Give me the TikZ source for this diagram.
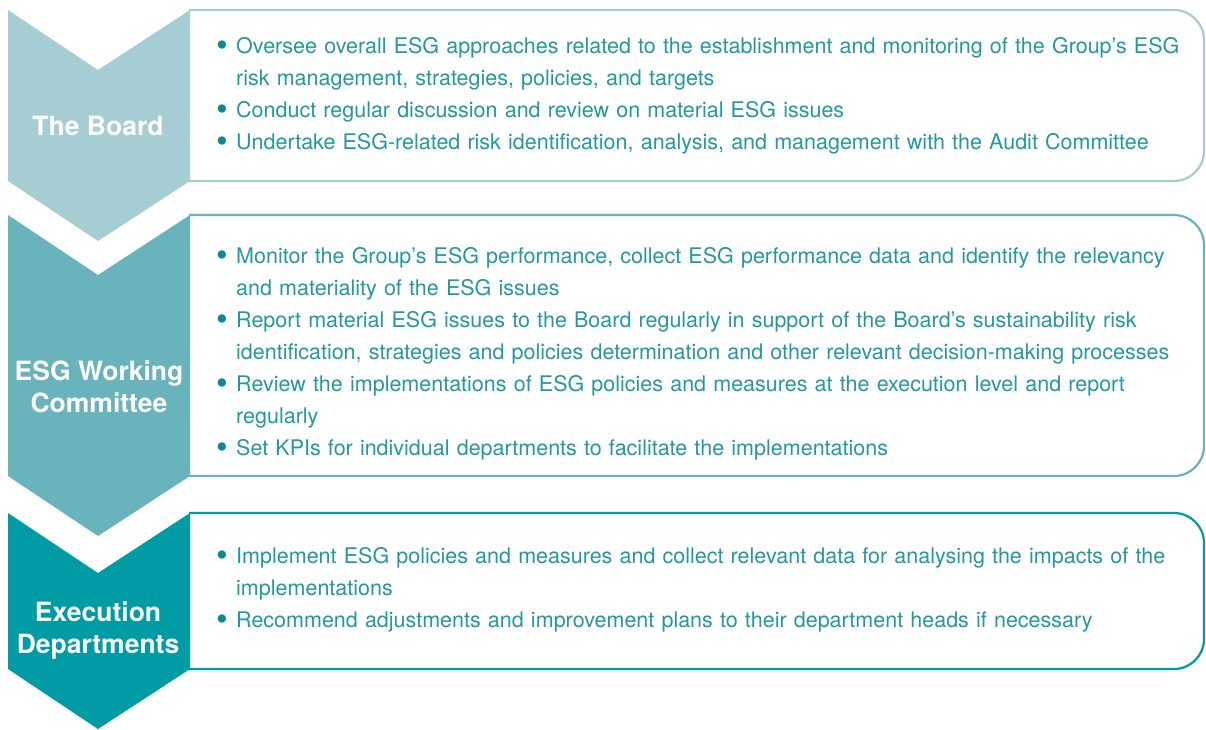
\documentclass[tikz,border=0pt]{standalone}
\usepackage{fontspec}
\setmainfont{TeX Gyre Heros}
\usetikzlibrary{positioning}

\definecolor{boardc}{RGB}{166,205,211}
\definecolor{workc}{RGB}{104,179,188}
\definecolor{execc}{RGB}{0,156,166}
\definecolor{taskteal}{RGB}{35,152,160}
\definecolor{bulletteal}{RGB}{15,135,145}

% 箇条書き一行分（ぶら下げインデント付き、改行は \newline）
\newcommand{\esgitem}[1]{\par\hangindent=20pt\hangafter=1\noindent
  \makebox[20pt][l]{\raisebox{-2.6pt}{\textcolor{bulletteal}{\scalebox{1.55}{\textbullet}}}}#1}

\begin{document}
\begin{tikzpicture}[
    x=1pt, y=-1pt,          % 画面座標と同じ向き（下向きが正）
    tasks/.style={anchor=west, inner sep=0pt, text width=985pt, align=left,
                  text=taskteal, font=\fontsize{21.5}{32}\selectfont},
    role/.style={text=white, align=center, font=\bfseries\fontsize{26.5}{32}\selectfont},
    panel/.style={line width=2.2pt, rounded corners=30pt}
]
    \useasboundingbox (0,0) rectangle (1206,730);

    % --- 1. 矢羽根（左側の帯） ---
    \fill [boardc] (8,10) -- (98,70) -- (190,10) -- (190,181) -- (98,241) -- (8,181) -- cycle;
    \fill [workc]  (8,215) -- (98,275) -- (190,215) -- (190,476) -- (98,536) -- (8,476) -- cycle;
    \fill [execc]  (8,513) -- (98,573) -- (190,513) -- (190,669) -- (98,729) -- (8,669) -- cycle;

    % --- 2. 右側の枠（右端だけ角丸） ---
    \draw [panel, boardc] (189,10)  -- (1204,10)  -- (1204,181) -- (189,181);
    \draw [panel, workc]  (189,215) -- (1204,215) -- (1204,476) -- (189,476);
    \draw [panel, execc]  (189,513) -- (1204,513) -- (1204,669) -- (189,669);

    % --- 3. 各層の名称 ---
    \node [role] (board) at (98,126) {The Board};
    \node [role] (working) at (99,387) {ESG Working\\Committee};
    \node [role] (execution) at (98,631) {Execution\\Departments};

    % --- 4. 役割の箇条書き ---
    \node [tasks] (boardtasks) at (216,88) {%
      \esgitem{Oversee overall ESG approaches related to the establishment and monitoring of the Group’s ESG\newline
               risk management, strategies, policies, and targets}
      \esgitem{Conduct regular discussion and review on material ESG issues}
      \esgitem{Undertake ESG-related risk identification, analysis, and management with the Audit Committee}};

    \node [tasks] (workingtasks) at (216,346) {%
      \esgitem{Monitor the Group’s ESG performance, collect ESG performance data and identify the relevancy\newline
               and materiality of the ESG issues}
      \esgitem{Report material ESG issues to the Board regularly in support of the Board’s sustainability risk\newline
               identification, strategies and policies determination and other relevant decision-making processes}
      \esgitem{Review the implementations of ESG policies and measures at the execution level and report\newline
               regularly}
      \esgitem{Set KPIs for individual departments to facilitate the implementations}};

    \node [tasks] (executiontasks) at (216,582) {%
      \esgitem{Implement ESG policies and measures and collect relevant data for analysing the impacts of the\newline
               implementations}
      \esgitem{Recommend adjustments and improvement plans to their department heads if necessary}};

\end{tikzpicture}
\end{document}
